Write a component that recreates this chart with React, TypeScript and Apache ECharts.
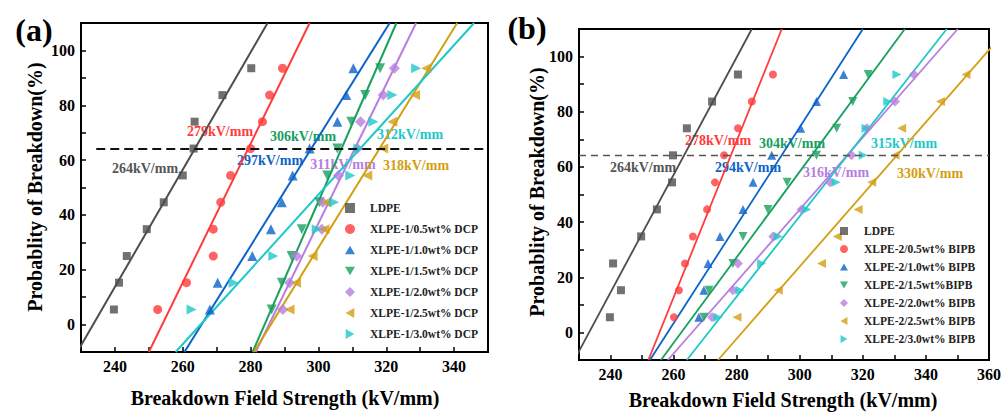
import React, { useEffect, useRef } from "react";
import * as echarts from "echarts";

// ---------- DATA ----------
const Y_LEVELS = [5.5, 15.3, 25.0, 34.8, 44.6, 54.4, 64.2, 74.0, 83.7, 93.5];
const FIT_Y = [-10, 110];
const REF_LEVEL = 64.3;

// Panel (a)
const A_NAMES = [
  "LDPE",
  "XLPE-1/0.5wt% DCP",
  "XLPE-1/1.0wt% DCP",
  "XLPE-1/1.5wt% DCP",
  "XLPE-1/2.0wt% DCP",
  "XLPE-1/2.5wt% DCP",
  "XLPE-1/3.0wt% DCP",
];
const A_LDPE = [239.7, 241.2, 243.5, 249.4, 254.4, 260.0, 263.2, 263.5, 271.7, 280.2];
const A_05 = [252.6, 261.1, 269.0, 269.0, 271.2, 274.1, 280.0, 283.5, 285.6, 289.4];
const A_10 = [268.0, 270.3, 280.5, 286.0, 289.2, 292.4, 297.4, 305.6, 308.2, 310.3];
const A_15 = [286.2, 289.2, 292.1, 295.1, 300.3, 302.6, 305.6, 309.7, 313.8, 318.2];
const A_20 = [289.5, 291.5, 293.6, 301.0, 301.3, 305.9, 311.5, 312.4, 319.1, 322.4];
const A_25 = [291.5, 293.4, 298.3, 301.8, 302.3, 314.4, 319.1, 321.8, 328.5, 331.8];
const A_30 = [262.6, 275.0, 286.7, 299.5, 304.6, 309.4, 311.8, 316.2, 321.8, 328.8];
// fitted lines: x at y = -10 and at y = 110
const A_FITS = [
  [228.9, 285.0],
  [250.0, 297.4],
  [260.5, 321.0],
  [280.6, 323.0],
  [281.5, 328.8],
  [281.0, 340.9],
  [257.9, 345.9],
];
const A_LABELS = ["264kV/mm", "279kV/mm", "297kV/mm", "306kV/mm", "311kV/mm", "318kV/mm", "312kV/mm"];
const A_REF_RANGE = [234.5, 350];

// Panel (b)
const B_NAMES = [
  "LDPE",
  "XLPE-2/0.5wt% BIPB",
  "XLPE-2/1.0wt% BIPB",
  "XLPE-2/1.5wt%BIPB",
  "XLPE-2/2.0wt% BIPB",
  "XLPE-2/2.5wt% BIPB",
  "XLPE-2/3.0wt% BIPB",
];
const B_LDPE = [239.8, 243.3, 240.8, 249.7, 254.7, 259.5, 259.8, 264.2, 272.2, 280.4];
const B_05 = [260.1, 261.7, 263.6, 266.1, 270.6, 273.1, 276.0, 280.4, 284.8, 291.5];
const B_10 = [268.0, 269.6, 270.9, 274.7, 282.0, 285.2, 291.1, 300.3, 305.3, 313.9];
const B_15 = [269.6, 271.2, 278.8, 282.0, 289.9, 296.0, 305.3, 311.7, 316.8, 321.7];
const B_20 = [272.2, 278.8, 280.4, 291.6, 300.6, 309.6, 316.4, 321.3, 330.2, 336.2];
const B_25 = [280.1, 293.2, 306.9, 311.9, 318.5, 322.8, 330.2, 332.3, 344.6, 352.7];
const B_30 = [274.1, 281.0, 287.9, 293.2, 302.2, 311.5, 320.1, 321.0, 327.9, 330.8];
const B_FITS = [
  [228.5, 284.8],
  [252.0, 294.3],
  [252.5, 320.0],
  [256.0, 333.3],
  [258.2, 350.1],
  [274.1, 365.8],
  [264.2, 346.6],
];
const B_LABELS = ["264kV/mm", "278kV/mm", "294kV/mm", "304kV/mm", "316kV/mm", "330kV/mm", "315kV/mm"];
const B_REF_RANGE = [230, 360];

const X_TITLE = "Breakdown Field Strength (kV/mm)";
const Y_TITLE = "Probablity of Breakdown(%)";

// ---------- STYLE ----------
const FONT = "'Liberation Serif', 'Times New Roman', serif";
const COLORS = ["#4d4d4d", "#ff3b3b", "#0b63c9", "#17a05d", "#b77ee0", "#d39e11", "#1ec8c8"];
const LABEL_COLORS = ["#555555", "#ff3b3b", "#0b63c9", "#17a05d", "#b77ee0", "#d39e11", "#1ec8c8"];
const SYMBOLS = [
  "rect",
  "circle",
  "path://M5,0L10,8.66L0,8.66Z",
  "path://M0,0L10,0L5,8.66Z",
  "diamond",
  "path://M8.66,0L8.66,10L0,5Z",
  "path://M0,0L0,10L8.66,5Z",
];
const SIZES_A = [8, 9, 10, 10, 11, 10, 10];
const SIZES_B = [8, 8, 9, 9, 10, 9, 9];

// label centre positions (pixels)
const A_LABEL_POS = [
  [145, 168],
  [220, 131],
  [270, 160],
  [303, 136],
  [343, 164],
  [416, 165],
  [410, 134],
];
const B_LABEL_POS = [
  [643, 167],
  [718, 140],
  [748, 167],
  [792, 143],
  [836, 172],
  [930, 173],
  [904, 143],
];

function buildPanel(
  gi: number,
  names: string[],
  xs: number[][],
  fits: number[][],
  sizes: number[],
  refRange: number[],
  dashStyle: any,
  lineWidth: number
) {
  const series: any[] = [];
  xs.forEach((arr, k) => {
    series.push({
      name: names[k] + " fit",
      type: "line",
      xAxisIndex: gi,
      yAxisIndex: gi,
      data: [
        [fits[k][0], FIT_Y[0]],
        [fits[k][1], FIT_Y[1]],
      ],
      showSymbol: false,
      symbol: "none",
      silent: true,
      clip: true,
      z: 2,
      lineStyle: { color: COLORS[k], width: lineWidth },
      markLine:
        k === 0
          ? {
              silent: true,
              symbol: "none",
              label: { show: false },
              lineStyle: dashStyle,
              data: [
                [
                  { coord: [refRange[0], REF_LEVEL] },
                  { coord: [refRange[1], REF_LEVEL] },
                ],
              ],
            }
          : undefined,
    });
  });
  xs.forEach((arr, k) => {
    series.push({
      name: names[k],
      type: "scatter",
      xAxisIndex: gi,
      yAxisIndex: gi,
      data: arr.map((x, i) => [x, Y_LEVELS[i]]),
      symbol: SYMBOLS[k],
      symbolSize: sizes[k],
      itemStyle: { color: COLORS[k] },
      z: 3,
    });
  });
  return series;
}

function axisX(gi: number, min: number, max: number) {
  return {
    type: "value",
    gridIndex: gi,
    min,
    max,
    interval: 10,
    axisLine: { show: true, onZero: false, lineStyle: { color: "#000", width: 2 } },
    axisTick: { show: true, inside: true, length: 5, lineStyle: { color: "#000", width: 1.5 } },
    axisLabel: {
      color: "#000",
      fontSize: 16,
      fontWeight: "bold",
      fontFamily: FONT,
      margin: 6,
      formatter: (v: number) => (Math.round(v) % 20 === 0 ? String(v) : ""),
    },
    splitLine: { show: false },
  };
}

function axisY(gi: number) {
  return {
    type: "value",
    gridIndex: gi,
    min: -10,
    max: 110,
    interval: 10,
    axisLine: { show: true, onZero: false, lineStyle: { color: "#000", width: 2 } },
    axisTick: { show: true, inside: true, length: 5, lineStyle: { color: "#000", width: 1.5 } },
    axisLabel: {
      color: "#000",
      fontSize: 16,
      fontWeight: "bold",
      fontFamily: FONT,
      margin: 6,
      formatter: (v: number) => (v >= 0 && v % 20 === 0 ? String(v) : ""),
    },
    splitLine: { show: false },
  };
}

function txt(x: number, y: number, text: string, size: number, color: string, rotation = 0) {
  return {
    type: "text",
    x,
    y,
    rotation,
    silent: true,
    style: {
      text,
      fill: color,
      font: `bold ${size}px ${FONT}`,
      align: "center",
      verticalAlign: "middle",
    },
  };
}

export default function App() {
  const ref = useRef<HTMLDivElement>(null);
  useEffect(() => {
    if (!ref.current) return;
    const chart = echarts.init(ref.current, undefined, { renderer: "svg" });

    const seriesA = buildPanel(
      0,
      A_NAMES,
      [A_LDPE, A_05, A_10, A_15, A_20, A_25, A_30],
      A_FITS,
      SIZES_A,
      A_REF_RANGE,
      { color: "#111", width: 2, type: [9, 5] },
      2
    );
    const seriesB = buildPanel(
      1,
      B_NAMES,
      [B_LDPE, B_05, B_10, B_15, B_20, B_25, B_30],
      B_FITS,
      SIZES_B,
      B_REF_RANGE,
      { color: "#555", width: 1.3, type: [7, 5] },
      1.8
    );

    const graphics: any[] = [];
    A_LABELS.forEach((t, k) =>
      graphics.push(txt(A_LABEL_POS[k][0], A_LABEL_POS[k][1], t, 14, LABEL_COLORS[k]))
    );
    B_LABELS.forEach((t, k) =>
      graphics.push(txt(B_LABEL_POS[k][0], B_LABEL_POS[k][1], t, 14, LABEL_COLORS[k]))
    );
    graphics.push(txt(34, 30, "(a)", 32, "#000"));
    graphics.push(txt(527, 28, "(b)", 32, "#000"));
    graphics.push(txt(285, 398, X_TITLE, 20, "#000"));
    graphics.push(txt(783, 400, X_TITLE, 20, "#000"));
    graphics.push(txt(35, 187, Y_TITLE, 20, "#000", Math.PI / 2));
    graphics.push(txt(537, 192, Y_TITLE, 20, "#000", Math.PI / 2));

    const legendText = (pad: number) => ({
      color: "#222",
      fontSize: 11.5,
      fontWeight: "bold",
      fontFamily: FONT,
      lineHeight: 14,
      padding: [0, 0, 0, pad],
    });

    chart.setOption({
      animation: false,
      backgroundColor: "#fff",
      grid: [
        { left: 81, top: 23, width: 407, height: 329, show: true, borderColor: "#000", borderWidth: 2 },
        { left: 579, top: 29, width: 410, height: 331, show: true, borderColor: "#000", borderWidth: 2 },
      ],
      xAxis: [axisX(0, 230, 350), axisX(1, 230, 360)],
      yAxis: [axisY(0), axisY(1)],
      legend: [
        {
          data: A_NAMES,
          orient: "vertical",
          left: 345,
          top: 201,
          padding: 0,
          itemWidth: 10,
          itemHeight: 10,
          itemGap: 7,
          selectedMode: false,
          textStyle: legendText(10),
        },
        {
          data: B_NAMES,
          orient: "vertical",
          left: 840,
          top: 224,
          padding: 0,
          itemWidth: 8,
          itemHeight: 8,
          itemGap: 4,
          selectedMode: false,
          textStyle: legendText(11),
        },
      ],
      graphic: graphics,
      series: [...seriesA, ...seriesB],
    });
    return () => chart.dispose();
  }, []);
  return (
    <div
      ref={ref}
      style={{ position: "fixed", left: 0, top: 0, width: 1008, height: 412, background: "#fff" }}
    />
  );
}
